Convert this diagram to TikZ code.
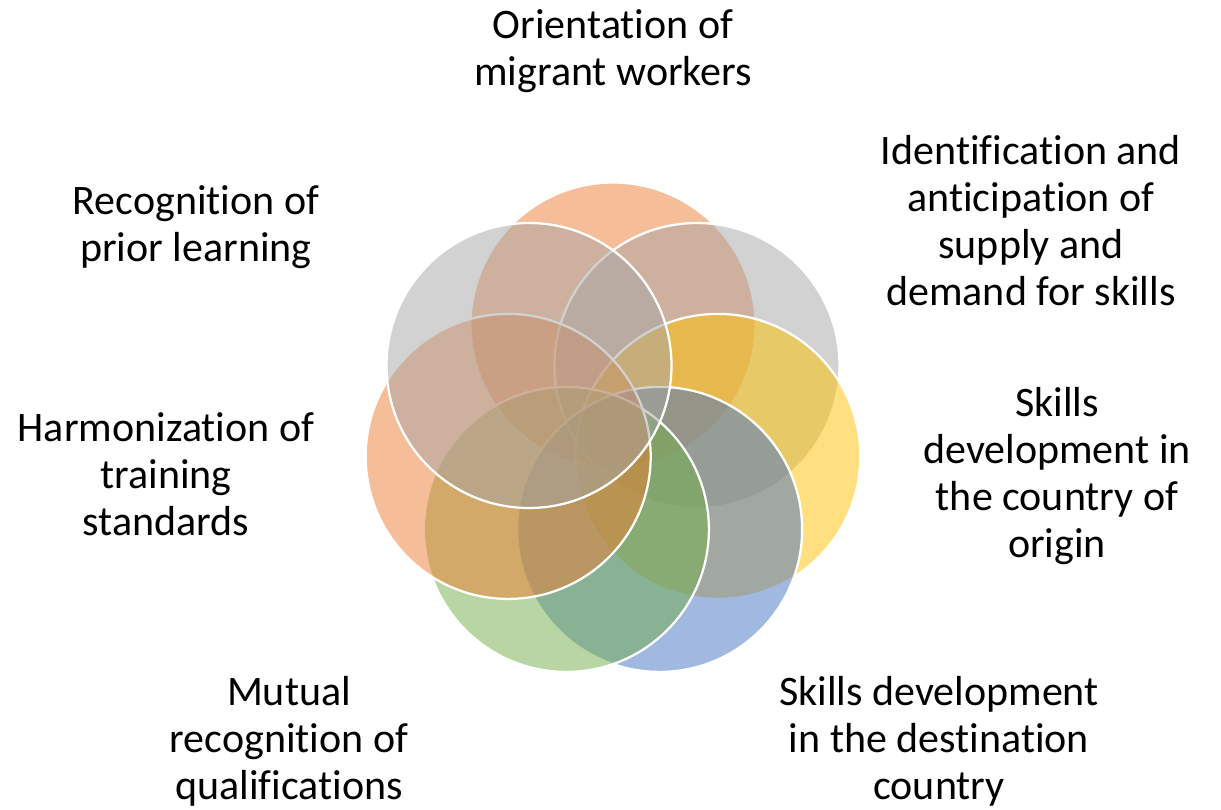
\documentclass[tikz,border=0pt]{standalone}
\usepackage{fontspec}
\setmainfont{Carlito}[Ligatures=NoCommon]
\definecolor{cOrange}{HTML}{ED7D31}
\definecolor{cGray}{HTML}{A5A5A5}
\definecolor{cYellow}{HTML}{FFC000}
\definecolor{cBlue}{HTML}{4472C4}
\definecolor{cGreen}{HTML}{70AD47}
\begin{document}
\begin{tikzpicture}[x=1pt,y=-1pt,
  petal/.style={circle, minimum size=285pt, inner sep=0pt, outer sep=0pt, draw=white, line width=2.25pt, fill opacity=0.5, draw opacity=1},
  lbl/.style={align=center, anchor=base, font=\fontsize{42}{47}\selectfont, text=black, inner sep=0pt}]
\useasboundingbox (0,0) rectangle (1221,809);
\node[petal, fill=cOrange] (p1) at (613,325) {};
\node[petal, fill=cGray]   (p2) at (697.0,365.5) {};
\node[petal, fill=cYellow] (p3) at (717.8,456.4) {};
\node[petal, fill=cBlue]   (p4) at (659.6,529.4) {};
\node[petal, fill=cGreen]  (p5) at (566.4,529.4) {};
\node[petal, fill=cOrange] (p6) at (508.2,456.4) {};
\node[petal, fill=cGray]   (p7) at (529.0,365.5) {};
\node[lbl] (l1) at (613,85) {Orientation of\\migrant workers};
\node[lbl] (l2) at (1031,305) {Identification and\\anticipation of\\supply and\\demand for skills};
\node[lbl] (l3) at (1057,557) {Skills\\development in\\the country of\\origin};
\node[lbl] (l4) at (939,799) {Skills development\\in the destination\\country};
\node[lbl] (l5) at (289,799) {Mutual\\recognition of\\qualifications};
\node[lbl] (l6) at (166,535) {Harmonization of\\training\\standards};
\node[lbl] (l7) at (196,261) {Recognition of\\prior learning};
\end{tikzpicture}
\end{document}
